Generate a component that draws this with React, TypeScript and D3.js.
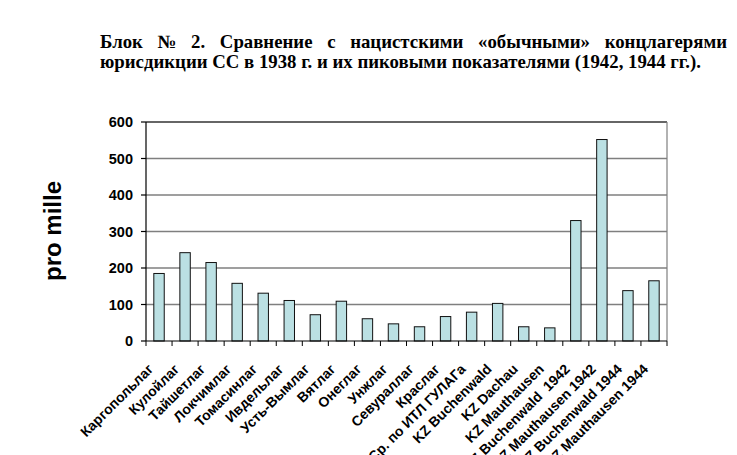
import * as d3 from "d3";
import { useLayoutEffect, useRef } from "react";

const camps = [
    "Каргопольлаг", "Кулойлаг", "Тайшетлаг", "Локчимлаг", "Томасинлаг",
    "Ивдельлаг", "Усть-Вымлаг", "Вятлаг", "Онеглаг", "Унжлаг",
    "Севураллаг", "Краслаг", "Ср. по ИТЛ ГУЛАГа", "KZ Buchenwald", "KZ Dachau",
    "KZ Mauthausen", "KZ Buchenwald  1942", "KZ Mauthausen 1942", "KZ Buchenwald 1944", "KZ Mauthausen 1944",
];
const perMille = [185, 242, 215, 158, 131, 111, 72, 109, 61, 47, 39, 67, 79, 103, 39, 36, 330, 552, 138, 165];
const yTicks = [0, 100, 200, 300, 400, 500, 600];

const titleLine1 = "Блок № 2. Сравнение с нацистскими «обычными» концлагерями";
const titleLine2 = "юрисдикции СС в 1938 г. и их пиковыми показателями (1942, 1944 гг.).";

const W = 737, H = 455;
const plot = { left: 146, right: 667, top: 122, bottom: 341 };

// justified first title line, like the source document
function JustifiedLine({ text, x0, x1, y }: { text: string; x0: number; x1: number; y: number }) {
    const gRef = useRef<SVGGElement | null>(null);
    const words = text.split(" ");
    useLayoutEffect(() => {
        if (!gRef.current) return;
        const nodes = d3.select(gRef.current).selectAll<SVGTextElement, unknown>("text").nodes();
        const widths = nodes.map(n => n.getComputedTextLength());
        const gap = (x1 - x0 - d3.sum(widths)) / (nodes.length - 1);
        let x = x0;
        nodes.forEach((n, i) => {
            n.setAttribute("x", String(x));
            x += widths[i] + gap;
        });
    }, [text, x0, x1]);
    return (
        <g ref={gRef}>
            {words.map((w, i) => <text key={i} x={x0} y={y}>{w}</text>)}
        </g>
    );
}

export default function App() {
    const x = d3.scaleBand<string>()
        .domain(camps)
        .range([plot.left, plot.right])
        .paddingInner(0.6)
        .paddingOuter(0.3);
    const y = d3.scaleLinear().domain([0, 600]).range([plot.bottom, plot.top]);
    const step = (plot.right - plot.left) / camps.length;
    const boundaries = d3.range(camps.length + 1).map(i => plot.left + i * step);

    return (
        <svg width={W} height={H} style={{ position: "absolute", left: 0, top: 0, background: "#fff" }}>
            <g fontFamily="'Liberation Serif', 'Times New Roman', serif" fontWeight="bold" fontSize={18.8} fill="#000">
                <JustifiedLine text={titleLine1} x0={100} x1={727} y={48} />
                <text x={100} y={68}>{titleLine2}</text>
            </g>

            {/* grid */}
            {yTicks.filter(t => t > 0).map(t => (
                <line key={t} x1={plot.left} x2={plot.right} y1={y(t)} y2={y(t)}
                      stroke={t === 600 ? "#333" : "#7f7f7f"} strokeWidth={1.6} />
            ))}
            <line x1={plot.right} x2={plot.right} y1={plot.top} y2={plot.bottom} stroke="#7f7f7f" strokeWidth={1.2} />

            {/* bars */}
            {camps.map((c, i) => (
                <rect key={c} x={x(c)} y={y(perMille[i])} width={x.bandwidth()}
                      height={plot.bottom - y(perMille[i])}
                      fill="#bbe0e3" stroke="#111" strokeWidth={1} />
            ))}

            {/* axes */}
            <line x1={plot.left} x2={plot.left} y1={plot.top} y2={plot.bottom} stroke="#000" strokeWidth={1.2} />
            <line x1={plot.left} x2={plot.right} y1={plot.bottom} y2={plot.bottom} stroke="#000" strokeWidth={1.2} />
            {yTicks.map(t => (
                <g key={t}>
                    <line x1={plot.left - 5} x2={plot.left} y1={y(t)} y2={y(t)} stroke="#000" strokeWidth={1.2} />
                    <text x={133} y={y(t)} dy="0.36em" textAnchor="end"
                          fontFamily="'Liberation Sans', Arial, sans-serif" fontWeight="bold" fontSize={14.5}>{t}</text>
                </g>
            ))}
            {boundaries.map((b, i) => (
                <line key={i} x1={b} x2={b} y1={plot.bottom} y2={plot.bottom + 5} stroke="#000" strokeWidth={1} />
            ))}
            {camps.map(c => {
                const cx = (x(c) ?? 0) + x.bandwidth() / 2;
                return (
                    <text key={c} transform={`translate(${cx - 5},${plot.bottom + 29}) rotate(-45)`}
                          textAnchor="end" fontFamily="'Liberation Sans', Arial, sans-serif"
                          fontWeight="bold" fontSize={14} style={{ whiteSpace: "pre" }}>{c}</text>
                );
            })}

            <text transform={`translate(61,231) rotate(-90)`} textAnchor="middle"
                  fontFamily="'Liberation Sans', Arial, sans-serif" fontWeight="bold" fontSize={24}>pro mille</text>
        </svg>
    );
}
